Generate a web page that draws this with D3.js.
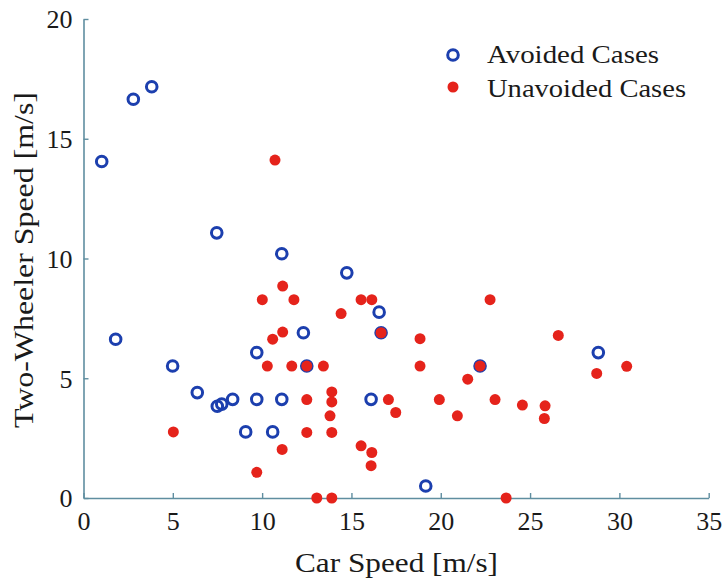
<!DOCTYPE html>
<html>
<head>
<meta charset="utf-8">
<script src="https://cdn.jsdelivr.net/npm/d3@7"></script>
<style>
  html, body { margin: 0; padding: 0; background: #fff; }
  svg { display: block; }
</style>
</head>
<body>
<script>
// ---- data ----
const xTicks = [0, 5, 10, 15, 20, 25, 30, 35];
const yTicks = [0, 5, 10, 15, 20];
const xLabel = "Car Speed [m/s]";
const yLabel = "Two-Wheeler Speed [m/s]";
const seriesNames = ["Avoided Cases", "Unavoided Cases"];

const avoidedX = [1.02, 2.79, 3.82, 1.80, 4.99, 6.37, 7.49, 7.74, 8.35, 9.70, 11.10, 9.08, 10.59, 9.70, 7.46, 11.10, 12.31, 12.50, 14.74, 16.55, 16.66, 16.10, 19.16, 22.20, 28.82];
const avoidedY = [14.05, 16.65, 17.17, 6.63, 5.51, 4.40, 3.83, 3.92, 4.12, 4.12, 4.12, 2.76, 2.76, 6.07, 11.07, 10.20, 6.90, 5.51, 9.40, 7.76, 6.90, 4.12, 0.50, 5.51, 6.07];

const unavoidedX = [10.72, 11.15, 10.01, 11.78, 15.54, 16.14, 22.76, 14.42, 11.15, 10.59, 16.66, 26.58, 18.84, 10.29, 11.66, 12.50, 13.43, 18.84, 22.20, 30.41, 28.73, 21.51, 12.50, 13.90, 13.90, 13.80, 17.07, 17.48, 19.92, 20.93, 23.04, 24.57, 25.84, 25.80, 5.03, 12.50, 13.90, 11.12, 15.54, 16.14, 16.10, 9.70, 13.06, 13.90, 23.66];
const unavoidedY = [14.11, 8.85, 8.28, 8.28, 8.28, 8.28, 8.28, 7.70, 6.93, 6.63, 6.90, 6.79, 6.65, 5.51, 5.51, 5.51, 5.51, 5.51, 5.51, 5.50, 5.20, 4.96, 4.11, 4.43, 4.01, 3.43, 4.11, 3.57, 4.11, 3.43, 4.11, 3.88, 3.85, 3.32, 2.76, 2.74, 2.74, 2.03, 2.18, 1.90, 1.35, 1.07, 0, 0, 0];

// ---- layout ----
const W = 726, H = 583;
const FONT = "Liberation Serif";
const TXT = "#1a1a1a";
const axisColor = "#5f8ea0";
const blue = "#1c3fae";
const red = "#e5231b";

const svg = d3.select("body").append("svg").attr("width", W).attr("height", H)
  .attr("font-family", FONT);

const x = d3.scaleLinear().domain([0, 35]).range([83.5, 708.7]);
const y = d3.scaleLinear().domain([0, 20]).range([498, 19]);

// axes (ticks point inward)
const gx = svg.append("g").attr("transform", `translate(0,${y(0)})`)
  .call(d3.axisBottom(x).tickValues(xTicks).tickSizeInner(-5).tickSizeOuter(0).tickFormat(d3.format("d")));
const gy = svg.append("g").attr("transform", `translate(${x(0)},0)`)
  .call(d3.axisLeft(y).tickValues(yTicks).tickSizeInner(-5).tickSizeOuter(0).tickFormat(d3.format("d")));

[gx, gy].forEach(g => {
  g.attr("font-family", FONT).attr("font-size", 26);
  g.select(".domain").attr("stroke", axisColor).attr("stroke-width", 1.6);
  g.selectAll(".tick line").attr("stroke", axisColor).attr("stroke-width", 1.4);
  g.selectAll(".tick text").attr("font-family", FONT).attr("font-size", 26).attr("fill", TXT);
});
gx.selectAll(".tick text").attr("y", 14).attr("dy", "0.71em");
gy.selectAll(".tick text").attr("x", -11).attr("dy", "0.34em");

// axis titles
svg.append("text")
  .attr("x", 396.5).attr("y", 572)
  .attr("text-anchor", "middle")
  .attr("textLength", 203).attr("lengthAdjust", "spacingAndGlyphs")
  .attr("font-family", FONT).attr("font-size", 27).attr("fill", TXT)
  .text(xLabel);

svg.append("text")
  .attr("transform", `translate(33,260) rotate(-90)`)
  .attr("text-anchor", "middle")
  .attr("textLength", 336).attr("lengthAdjust", "spacingAndGlyphs")
  .attr("font-family", FONT).attr("font-size", 28).attr("fill", TXT)
  .text(yLabel);

// points
const avoided = avoidedX.map((v, i) => ({ x: v, y: avoidedY[i] }));
const unavoided = unavoidedX.map((v, i) => ({ x: v, y: unavoidedY[i] }));

svg.append("g").selectAll("circle").data(avoided).join("circle")
  .attr("cx", d => x(d.x)).attr("cy", d => y(d.y))
  .attr("r", 5.3).attr("fill", "none")
  .attr("stroke", blue).attr("stroke-width", 3);

svg.append("g").selectAll("circle").data(unavoided).join("circle")
  .attr("cx", d => x(d.x)).attr("cy", d => y(d.y))
  .attr("r", 5.5).attr("fill", red);

// legend
const lg = svg.append("g");
lg.append("circle").attr("cx", 453).attr("cy", 55).attr("r", 5.3)
  .attr("fill", "none").attr("stroke", blue).attr("stroke-width", 3);
lg.append("circle").attr("cx", 453).attr("cy", 87).attr("r", 5.5).attr("fill", red);
lg.append("text").attr("x", 487).attr("y", 63)
  .attr("textLength", 172).attr("lengthAdjust", "spacingAndGlyphs")
  .attr("font-family", FONT).attr("font-size", 26).attr("fill", TXT)
  .text(seriesNames[0]);
lg.append("text").attr("x", 487).attr("y", 97)
  .attr("textLength", 199).attr("lengthAdjust", "spacingAndGlyphs")
  .attr("font-family", FONT).attr("font-size", 26).attr("fill", TXT)
  .text(seriesNames[1]);
</script>
</body>
</html>
